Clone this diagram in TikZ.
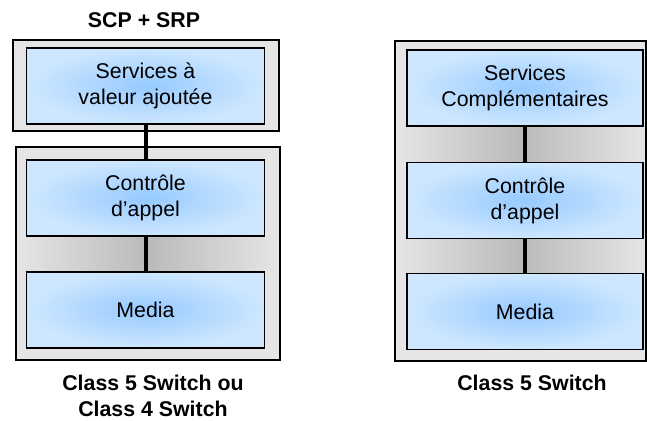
\documentclass[tikz,border=0pt]{standalone}
\usepackage{fontspec}
\setmainfont{Liberation Sans}
\usetikzlibrary{positioning,calc}

\definecolor{layermid}{RGB}{150,202,255}
\definecolor{layeredge}{RGB}{206,231,255}

\tikzset{
  layer/.style={draw, line width=0.9pt, inner color=layermid, outer color=layeredge,
    minimum height=57pt, align=center, font=\fontsize{16}{19.5}\selectfont},
  frame/.style={draw, line width=0.9pt},
  gap/.style={left color=black!10, right color=black!10, middle color=black!27},
  caption/.style={align=center, font=\bfseries\fontsize{16}{19.5}\selectfont},
  link/.style={line width=3pt}
}

\begin{document}
\begin{tikzpicture}[x=0.75pt, y=-0.75pt]
\useasboundingbox (0,0) rectangle (647,421);

% frames
\fill [black!10] (13,40) rectangle (279,131);
\draw [frame] (13,40) rectangle (279,131);

\fill [black!10] (16,147) rectangle (280,360);
\shade [gap] (16,236) rectangle (280,272);
\draw [frame] (16,147) rectangle (280,360);

\fill [black!10] (395,41) rectangle (646,361);
\shade [gap] (395,126) rectangle (646,162);
\shade [gap] (395,239) rectangle (646,273);
\draw [frame] (395,41) rectangle (646,361);

% left stack
\node [layer, minimum width=178.5pt] (srvL) at (145.5,86) {Services à\\valeur ajoutée};
\node [layer, minimum width=178.5pt] (ctlL) at (145.5,198) {Contrôle\\d’appel};
\node [layer, minimum width=178.5pt] (medL) at (145.5,310) {Media};

% right stack
\node [layer, minimum width=177pt] (srvR) at (525,88) {Services\\Complémentaires};
\node [layer, minimum width=177pt] (ctlR) at (525,200.5) {Contrôle\\d’appel};
\node [layer, minimum width=177pt] (medR) at (525,311.5) {Media};

\draw [link] (srvL) -- (ctlL);
\draw [link] (ctlL) -- (medL);
\draw [link] (srvR) -- (ctlR);
\draw [link] (ctlR) -- (medR);

% captions
\node [caption] (scp) at (144,20) {SCP + SRP};
\node [caption] (swL) at (153,396) {Class 5 Switch ou\\Class 4 Switch};
\node [caption] (swR) at (532,383) {Class 5 Switch};
\end{tikzpicture}
\end{document}
